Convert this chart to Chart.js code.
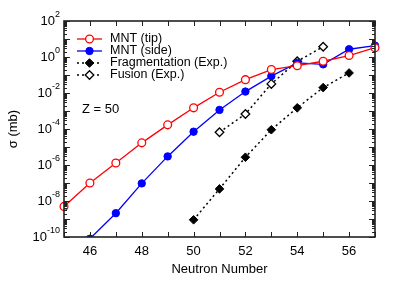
<!DOCTYPE html>
<html lang="en">
<head>
<meta charset="UTF-8">
<title>Z = 50 cross sections</title>
<style>
body { margin:0; padding:0; background:#fff; }
#wrap { width:399px; height:287px; }
</style>
</head>
<body>
<div id="wrap"><canvas id="chart" width="399" height="287"></canvas></div>

<script src="https://cdn.jsdelivr.net/npm/chart.js"></script>
<script>
// data (cross section in mb vs neutron number)
const tipN = [45,46,47,48,49,50,51,52,53,54,55,56,57];
const tipSigma = [5.0e-9,1.0e-7,1.3e-6,1.7e-5,1.7e-4,1.5e-3,1.1e-2,5.5e-2,0.20,0.33,0.58,1.2,3.3];
const sideN = [46,47,48,49,50,51,52,53,54,55,56,57];
const sideSigma = [8e-11,2.1e-9,9.5e-8,3.0e-6,7.1e-5,1.15e-3,1.2e-2,8.7e-2,0.47,0.39,2.7,4.3];
const fragN = [50,51,52,53,54,55,56];
const fragSigma = [9e-10,4.7e-8,2.7e-6,9.1e-5,1.5e-3,2.0e-2,0.13];
const fusN = [51,52,53,54,55];
const fusSigma = [6.6e-5,6.8e-4,3.2e-2,0.58,3.7];

const xTickLabels = [46,48,50,52,54,56];
const yTickExps = [2,0,-2,-4,-6,-8,-10];

const FONT = '"Liberation Sans", Arial, sans-serif';
const pts = (xs, ys) => xs.map((x, i) => ({x: x, y: ys[i]}));
const clipBox = {left: 8, top: 8, right: 8, bottom: 0};

const datasets = [
{label:'MNT (tip)', data:pts(tipN, tipSigma), borderColor:'#ff0000', backgroundColor:'#ffffff',
 borderWidth:1.3, pointStyle:'circle', pointRadius:3.9, pointBorderWidth:1.3, clip:clipBox},
{label:'MNT (side)', data:pts(sideN, sideSigma), borderColor:'#0000ff', backgroundColor:'#0000ff',
 borderWidth:1.3, pointStyle:'circle', pointRadius:3.7, pointBorderWidth:1, clip:clipBox},
{label:'Fragmentation (Exp.)', data:pts(fragN, fragSigma), borderColor:'#000000', backgroundColor:'#000000',
 borderWidth:1.5, borderDash:[2,3], pointStyle:'rectRot', pointRadius:4.3, pointBorderWidth:1, clip:clipBox},
{label:'Fusion (Exp.)', data:pts(fusN, fusSigma), borderColor:'#000000', backgroundColor:'#ffffff',
 borderWidth:1.5, borderDash:[2,3], pointStyle:'rectRot', pointRadius:4.3, pointBorderWidth:1.3, clip:clipBox}
];

// frame, inward ticks, tick labels, titles and legend
const decor = {
id: 'decor',
afterDraw(chart) {
const ctx = chart.ctx;
const a = chart.chartArea;
const xs = chart.scales.x, ys = chart.scales.y;
ctx.save();
ctx.strokeStyle = '#222';
ctx.fillStyle = '#000';

// ticks
ctx.lineWidth = 1;
for (let n = 45; n <= 57; n++) {
const px = Math.round(xs.getPixelForValue(n)) + 0.5;
ctx.beginPath();
ctx.moveTo(px, a.bottom); ctx.lineTo(px, a.bottom - 5);
ctx.moveTo(px, a.top); ctx.lineTo(px, a.top + 5);
ctx.stroke();
}
for (let e = -10; e <= 2; e++) {
for (let m = 1; m <= 9; m++) {
const v = m * Math.pow(10, e);
if (v > 100) break;
const py = Math.round(ys.getPixelForValue(v)) + 0.5;
const len = m === 1 ? 6 : 3;
ctx.beginPath();
ctx.moveTo(a.left, py); ctx.lineTo(a.left + len, py);
ctx.moveTo(a.right, py); ctx.lineTo(a.right - len, py);
ctx.stroke();
}
}

// frame
ctx.lineWidth = 1.6;
ctx.strokeRect(a.left, a.top, a.right - a.left, a.bottom - a.top);

// x tick labels
ctx.font = '13px ' + FONT;
ctx.textAlign = 'center';
ctx.textBaseline = 'middle';
xTickLabels.forEach(n => ctx.fillText(String(n), xs.getPixelForValue(n), a.bottom + 14));

// y tick labels 10^e
yTickExps.forEach(e => {
const py = ys.getPixelForValue(Math.pow(10, e));
ctx.font = '9px ' + FONT;
const ew = ctx.measureText(String(e)).width;
ctx.textAlign = 'left';
ctx.textBaseline = 'middle';
const right = a.left - 4;
ctx.fillText(String(e), right - ew, py - 6);
ctx.font = '13px ' + FONT;
ctx.textAlign = 'right';
ctx.fillText('10', right - ew, py);
});

// axis titles
ctx.font = '13px ' + FONT;
ctx.textAlign = 'center';
ctx.fillText('Neutron Number', (a.left + a.right) / 2, a.bottom + 32);
ctx.save();
ctx.translate(13, (a.top + a.bottom) / 2);
ctx.rotate(-Math.PI / 2);
ctx.fillText('σ (mb)', 0, 0);
ctx.restore();

// annotation
ctx.textAlign = 'left';
ctx.fillText('Z = 50', a.left + 18, ys.getPixelForValue(Math.pow(10, -2.9)));

// legend
ctx.font = '12.5px ' + FONT;
chart.data.datasets.forEach((d, i) => {
const ly = a.top + 18 + i * 12;
const x0 = a.left + 13, x1 = a.left + 38;
const c = (x0 + x1) / 2, r = d.pointRadius;
ctx.save();
ctx.strokeStyle = d.borderColor;
ctx.lineWidth = d.borderWidth;
ctx.setLineDash(d.borderDash || []);
ctx.beginPath(); ctx.moveTo(x0, ly); ctx.lineTo(x1, ly); ctx.stroke();
ctx.setLineDash([]);
ctx.fillStyle = d.backgroundColor;
ctx.lineWidth = d.pointBorderWidth;
ctx.beginPath();
if (d.pointStyle === 'circle') {
ctx.arc(c, ly, r, 0, Math.PI * 2);
} else {
ctx.moveTo(c, ly - r); ctx.lineTo(c + r, ly); ctx.lineTo(c, ly + r); ctx.lineTo(c - r, ly); ctx.closePath();
}
ctx.fill(); ctx.stroke();
ctx.restore();
ctx.fillStyle = '#000';
ctx.textAlign = 'left';
ctx.textBaseline = 'middle';
ctx.fillText(d.label, a.left + 46, ly);
});
ctx.restore();
}
};

new Chart(document.getElementById('chart'), {
type: 'line',
data: { datasets: datasets },
options: {
responsive: false,
animation: false,
layout: { padding: { left: 64, right: 24, top: 21, bottom: 50 } },
plugins: { legend: { display: false }, tooltip: { enabled: false } },
scales: {
x: { type: 'linear', min: 45, max: 57,
 ticks: { display: false }, grid: { display: false }, border: { display: false },
 afterFit: s => { s.height = 0; } },
y: { type: 'logarithmic', min: 1e-10, max: 1e2,
 ticks: { display: false }, grid: { display: false }, border: { display: false },
 afterFit: s => { s.width = 0; } }
}
},
plugins: [decor]
});
</script>
</body>
</html>
